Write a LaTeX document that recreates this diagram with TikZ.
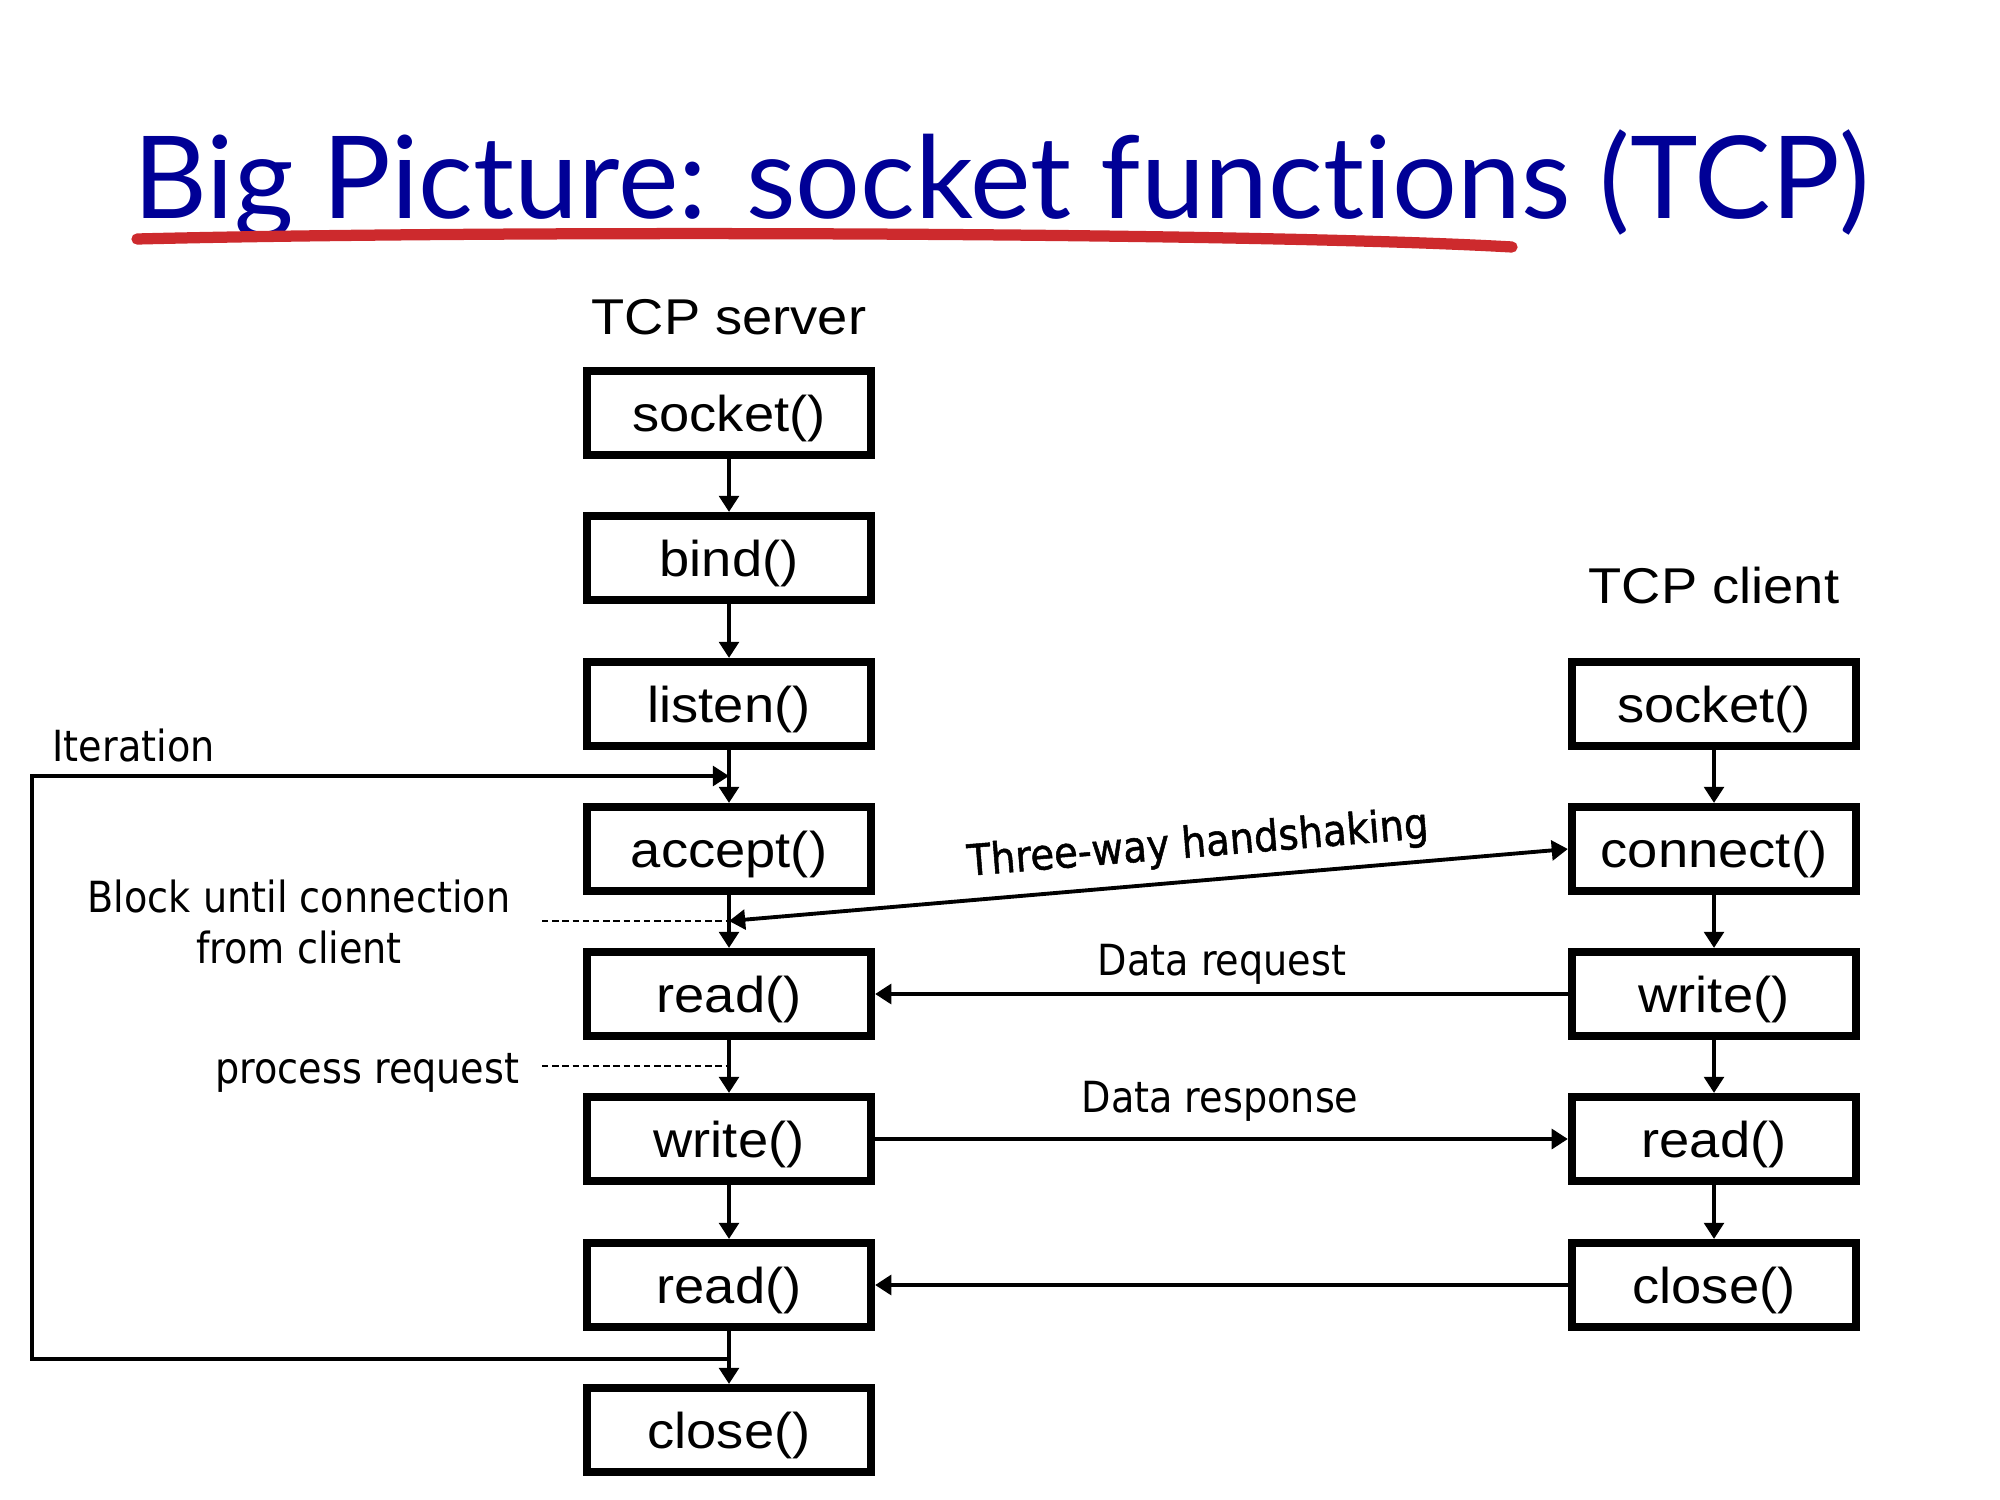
\documentclass[tikz,border=0pt]{standalone}
\usepackage{fontspec}
\setmainfont{Liberation Sans}
\newfontfamily\boxfont{Liberation Sans}[FakeStretch=1.08]
\newfontfamily\notefont{DejaVu Sans}[FakeStretch=0.89]
\newfontfamily\hsfont{DejaVu Sans}[FakeStretch=0.9, FakeBold=1.2]
\newfontfamily\titlefont{Lato}[Ligatures=NoCommon]
\usetikzlibrary{arrows.meta}
\definecolor{titleblue}{RGB}{0,0,150}
\definecolor{markred}{RGB}{205,42,45}
\tikzset{
  callbox/.style={draw, line width=2.3pt, minimum width=2.84cm, minimum height=0.84cm,
    inner sep=0pt, text height=10.4pt, text depth=0pt,
    font=\boxfont\fontsize{14.3}{16}\selectfont},
  flow/.style={line width=1.1pt, -{Triangle[length=4.6pt,width=5.6pt]}},
  twoway/.style={line width=1.1pt, {Triangle[length=4.6pt,width=5.6pt]}-{Triangle[length=4.6pt,width=5.6pt]}},
  guide/.style={line width=0.6pt, dash pattern=on 1.8pt off 1.1pt},
  note/.style={inner sep=0pt, font=\notefont\fontsize{12.2}{14.4}\selectfont},
  heading/.style={inner sep=0pt, font=\boxfont\fontsize{14.3}{16}\selectfont}
}
\begin{document}
\begin{tikzpicture}[x=0.01cm, y=-0.01cm]
\useasboundingbox (0,0) rectangle (2000,1500);

% title and hand-drawn underline
\node[anchor=base west, inner sep=0pt, text=titleblue] (title) at (133,219)
  {\resizebox{17.35cm}{!}{\titlefont\fontsize{32}{36}\selectfont Big Picture: socket functions (TCP)}};
\draw[markred, line width=3.2pt, line cap=round] (137,239) .. controls (500,230) and (1250,232) .. (1512,247);

% column headings
\node[heading, anchor=base] (srvhead) at (729,334) {TCP server};
\node[heading, anchor=base] (clihead) at (1714,603) {TCP client};

% server calls
\node[callbox] (ssocket) at (729,413)  {socket()};
\node[callbox] (sbind)   at (729,558)  {bind()};
\node[callbox] (slisten) at (729,704)  {listen()};
\node[callbox] (saccept) at (729,849)  {accept()};
\node[callbox] (sread)   at (729,994)  {read()};
\node[callbox] (swrite)  at (729,1139) {write()};
\node[callbox] (sread2)  at (729,1285) {read()};
\node[callbox] (sclose)  at (729,1430) {close()};

% client calls
\node[callbox] (csocket)  at (1714,704)  {socket()};
\node[callbox] (cconnect) at (1714,849)  {connect()};
\node[callbox] (cwrite)   at (1714,994)  {write()};
\node[callbox] (cread)    at (1714,1139) {read()};
\node[callbox] (cclose)   at (1714,1285) {close()};

% server sequence
\draw[flow] (ssocket) -- (sbind);
\draw[flow] (sbind) -- (slisten);
\draw[flow] (slisten) -- (saccept);
\draw[flow] (saccept) -- (sread);
\draw[flow] (sread) -- (swrite);
\draw[flow] (swrite) -- (sread2);
\draw[flow] (sread2) -- (sclose);

% client sequence
\draw[flow] (csocket) -- (cconnect);
\draw[flow] (cconnect) -- (cwrite);
\draw[flow] (cwrite) -- (cread);
\draw[flow] (cread) -- (cclose);

% iteration loop
\coordinate (loopin)  at (729,776);
\coordinate (loopout) at (729,1359);
\coordinate (loopbl)  at (32,1359);
\coordinate (looptl)  at (32,776);
\draw[flow] (loopout) -- (loopbl) -- (looptl) -- (loopin);
\node[note, anchor=base west] (iterlbl) at (52,761) {Iteration};

% blocking point and handshake
\coordinate (hs) at (729,921);
\coordinate (blockend) at (542,921);
\draw[guide] (blockend) -- (hs);
\node[note, align=center] (blocklbl) at (299,922) {Block until connection\\from client};
\draw[twoway] (hs) -- (cconnect.west);
\node[inner sep=0pt, rotate=4.7, font=\hsfont\fontsize{12.2}{13.6}\selectfont] (hslbl) at (1198,845) {Three-way handshaking};

% processing note
\coordinate (proc) at (729,1066);
\coordinate (procend) at (542,1066);
\draw[guide] (procend) -- (proc);
\node[note, anchor=base east] (proclbl) at (520,1083) {process request};

% data exchange
\draw[flow] (cwrite.west) -- (sread.east);
\node[note, anchor=base] (reqlbl) at (1222,975) {Data request};
\draw[flow] (swrite.east) -- (cread.west);
\node[note, anchor=base] (resplbl) at (1220,1112) {Data response};
\draw[flow] (cclose.west) -- (sread2.east);
\end{tikzpicture}
\end{document}
